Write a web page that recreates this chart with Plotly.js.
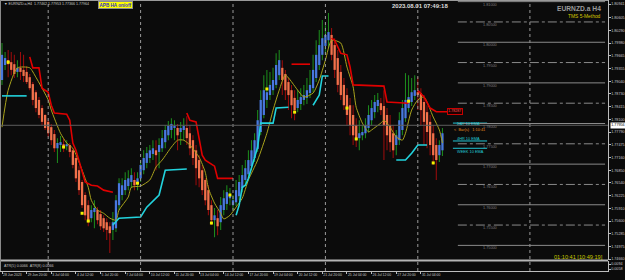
<!DOCTYPE html>
<html><head><meta charset="utf-8">
<script src="https://cdn.plot.ly/plotly-3.0.1.min.js"></script>
<style>html,body{margin:0;padding:0;background:#0b0b0b;}#chart{width:625px;height:280px;}</style>
</head><body><div id="chart"></div>
<script>
// ---- data ----
const openP = [
1.7907,1.7944,1.7956,1.7951,1.7946,1.7927,1.7937,1.7932,1.7927,1.7914,
1.7897,1.7877,1.7858,1.7838,1.7821,1.7804,1.7791,1.7774,1.7739,1.7747,
1.7749,1.7744,1.7747,1.7734,1.7715,1.7685,1.7656,1.7624,1.7599,1.7567,
1.7582,1.7587,1.7577,1.7567,1.7557,1.7547,1.7538,1.7542,1.7599,1.7624,
1.7636,1.7646,1.7656,1.7661,1.7653,1.7665,1.7685,1.7703,1.7715,1.7725,
1.7734,1.7730,1.7739,1.7754,1.7771,1.7784,1.7789,1.7789,1.7779,1.7784,
1.7789,1.7776,1.7759,1.7734,1.7710,1.7685,1.7661,1.7636,1.7599,1.7562,
1.7567,1.7557,1.7587,1.7602,1.7616,1.7599,1.7606,1.7621,1.7641,1.7661,
1.7675,1.7695,1.7715,1.7737,1.7779,1.7821,1.7858,1.7870,1.7882,1.7895,
1.7919,1.7937,1.7922,1.7902,1.7882,1.7863,1.7838,1.7848,1.7858,1.7863,
1.7875,1.7887,1.7912,1.7944,1.7969,1.7991,1.8005,1.8018,1.7993,1.7961,
1.7927,1.7895,1.7870,1.7845,1.7821,1.7796,1.7764,1.7771,1.7776,1.7789,
1.7808,1.7828,1.7843,1.7850,1.7843,1.7821,1.7796,1.7776,1.7747,1.7759,
1.7784,1.7813,1.7838,1.7853,1.7868,1.7877,1.7875,1.7853,1.7828,1.7804,
1.7776,1.7747,1.7722,1.7734];
const highP = [
1.7998,1.7976,1.7981,1.7976,1.7969,1.7956,1.7976,1.7969,1.7941,1.7922,
1.7902,1.7882,1.7865,1.7845,1.7823,1.7808,1.7799,1.7784,1.7764,1.7769,
1.7764,1.7759,1.7752,1.7739,1.7720,1.7695,1.7661,1.7631,1.7611,1.7599,
1.7611,1.7594,1.7587,1.7574,1.7567,1.7557,1.7582,1.7624,1.7665,1.7665,
1.7680,1.7685,1.7690,1.7680,1.7680,1.7710,1.7734,1.7742,1.7747,1.7759,
1.7759,1.7764,1.7784,1.7796,1.7806,1.7813,1.7808,1.7799,1.7804,1.7813,
1.7818,1.7796,1.7771,1.7747,1.7722,1.7698,1.7665,1.7648,1.7611,1.7592,
1.7587,1.7619,1.7636,1.7648,1.7641,1.7624,1.7661,1.7673,1.7698,1.7710,
1.7734,1.7759,1.7776,1.7833,1.7882,1.7919,1.7932,1.7927,1.7937,1.7973,
1.7981,1.7956,1.7932,1.7912,1.7895,1.7882,1.7882,1.7887,1.7895,1.7912,
1.7932,1.7969,1.8005,1.8030,1.8055,1.8042,1.8072,1.8035,1.8010,1.7981,
1.7944,1.7912,1.7887,1.7863,1.7845,1.7813,1.7808,1.7796,1.7813,1.7845,
1.7858,1.7870,1.7875,1.7863,1.7882,1.7838,1.7821,1.7796,1.7784,1.7828,
1.7858,1.7924,1.7919,1.7912,1.7919,1.7914,1.7887,1.7870,1.7845,1.7821,
1.7796,1.7764,1.7759,1.7789];
const lowP = [
1.7895,1.7932,1.7914,1.7919,1.7912,1.7914,1.7907,1.7902,1.7897,1.7882,
1.7845,1.7828,1.7813,1.7796,1.7784,1.7767,1.7747,1.7730,1.7703,1.7730,
1.7730,1.7734,1.7717,1.7690,1.7656,1.7624,1.7592,1.7562,1.7547,1.7557,
1.7542,1.7552,1.7538,1.7533,1.7513,1.7481,1.7513,1.7533,1.7587,1.7611,
1.7624,1.7636,1.7641,1.7636,1.7636,1.7656,1.7675,1.7690,1.7703,1.7710,
1.7685,1.7690,1.7730,1.7739,1.7759,1.7764,1.7759,1.7734,1.7747,1.7759,
1.7747,1.7722,1.7698,1.7648,1.7643,1.7624,1.7599,1.7574,1.7550,1.7520,
1.7525,1.7538,1.7574,1.7587,1.7599,1.7587,1.7597,1.7611,1.7631,1.7648,
1.7665,1.7685,1.7705,1.7730,1.7771,1.7813,1.7838,1.7858,1.7870,1.7887,
1.7907,1.7870,1.7858,1.7833,1.7813,1.7808,1.7828,1.7833,1.7845,1.7848,
1.7863,1.7877,1.7902,1.7932,1.7956,1.7969,1.7986,1.7956,1.7912,1.7877,
1.7858,1.7833,1.7796,1.7771,1.7747,1.7742,1.7734,1.7759,1.7764,1.7779,
1.7796,1.7813,1.7828,1.7821,1.7710,1.7734,1.7730,1.7715,1.7722,1.7747,
1.7771,1.7804,1.7828,1.7843,1.7858,1.7833,1.7796,1.7747,1.7739,1.7722,
1.7698,1.7661,1.7705,1.7720];
const closeP = [
1.7969,1.7961,1.7946,1.7932,1.7922,1.7937,1.7927,1.7917,1.7902,1.7887,
1.7858,1.7838,1.7821,1.7804,1.7789,1.7776,1.7759,1.7739,1.7752,1.7754,
1.7742,1.7749,1.7730,1.7698,1.7665,1.7636,1.7599,1.7574,1.7557,1.7587,
1.7592,1.7562,1.7547,1.7542,1.7538,1.7530,1.7557,1.7611,1.7653,1.7648,
1.7661,1.7665,1.7673,1.7648,1.7665,1.7698,1.7715,1.7727,1.7734,1.7739,
1.7722,1.7747,1.7764,1.7784,1.7794,1.7799,1.7794,1.7771,1.7789,1.7794,
1.7764,1.7739,1.7715,1.7690,1.7665,1.7636,1.7611,1.7587,1.7562,1.7574,
1.7547,1.7599,1.7616,1.7631,1.7624,1.7611,1.7636,1.7656,1.7673,1.7690,
1.7710,1.7734,1.7759,1.7808,1.7858,1.7882,1.7877,1.7895,1.7907,1.7944,
1.7956,1.7907,1.7882,1.7870,1.7845,1.7833,1.7858,1.7865,1.7870,1.7882,
1.7895,1.7932,1.7969,1.7993,1.8010,1.8018,1.8025,1.7969,1.7932,1.7895,
1.7870,1.7845,1.7821,1.7796,1.7771,1.7759,1.7776,1.7779,1.7796,1.7821,
1.7838,1.7853,1.7858,1.7833,1.7796,1.7771,1.7754,1.7734,1.7771,1.7808,
1.7838,1.7858,1.7865,1.7877,1.7882,1.7870,1.7833,1.7804,1.7779,1.7747,
1.7722,1.7710,1.7747,1.7776];

// moving average (yellow)
const maIdx = [0,2,5,9,11,15,16,19,21,23,25,28,29,31,33,35,37,38,41,42,45,48,50,52,55,57,59,61,64,66,67,69,71,72,74,76,78,80,83,86,88,90,92,96,98,101,103,105,107,110,112,114,115,117,119,120,123,124,126,128,130,131,133,135,137,140,142,143];
const maVal = [1.7791,1.7882,1.7937,1.7937,1.7914,1.7858,1.7833,1.7776,1.7752,1.7739,1.7705,1.7643,1.7611,1.7587,1.7579,1.7567,1.7562,1.7587,1.7619,1.7643,1.7646,1.7661,1.7693,1.7710,1.7742,1.7759,1.7759,1.7747,1.7717,1.7680,1.7641,1.7604,1.7579,1.7565,1.7574,1.7594,1.7616,1.7661,1.7710,1.7776,1.7833,1.7882,1.7919,1.7882,1.7865,1.7875,1.7907,1.7956,1.8005,1.7998,1.7939,1.7890,1.7840,1.7801,1.7779,1.7784,1.7801,1.7808,1.7791,1.7767,1.7759,1.7776,1.7833,1.7858,1.7865,1.7816,1.7784,1.7752];

// resistance (red) and support (cyan) step lines, null = gap
const redIdx = [9,10,12,13,15,16,17,21,22,23,24,26,27,29,31,33,36,null,60,61,63,64,65,66,67,69,70,75,null,94,100,null,107,108,110,112,113,114,124,125,132,null,135,137,139,141,146];
const redVal = [1.7964,1.7937,1.7937,1.7887,1.7877,1.7845,1.7826,1.7823,1.7808,1.7752,1.7734,1.7685,1.7656,1.7648,1.7646,1.7636,1.7631,null,1.7826,1.7808,1.7804,1.7759,1.7722,1.7710,1.7705,1.7695,1.7665,1.7665,null,1.7946,1.7946,null,1.8010,1.8005,1.7973,1.7969,1.7939,1.7895,1.7892,1.7853,1.7850,null,1.7882,1.7865,1.7838,1.7829,1.7829];
const cyanIdx = [0,8,null,36,38,45,47,51,52,53,60,null,76,77,78,79,80,81,83,84,88,89,93,null,101,103,104,106,null,128,131,133,135,138];
const cyanVal = [1.7868,1.7868,null,1.7550,1.7567,1.7570,1.7594,1.7624,1.7656,1.7685,1.7688,null,1.7574,1.7599,1.7643,1.7648,1.7665,1.7693,1.7742,1.7801,1.7801,1.7838,1.7840,null,1.7845,1.7870,1.7917,1.7917,null,1.7710,1.7710,1.7727,1.7747,1.7747];

// yellow signal dots
const dotIdx = [2,20,26,28,44,68,74,86,95,112,115,132,140];
const dotVal = [1.7951,1.7742,1.7579,1.7560,1.7653,1.7555,1.7624,1.7885,1.7828,1.7838,1.7762,1.7855,1.7703];

// round-number levels
const levels = [1.81,1.805,1.80,1.795,1.79,1.785,1.78,1.775,1.77,1.765,1.76,1.755,1.75];
const levelText = ['1.81000','1.80500','1.80000','1.79500','1.79000','1.78500','1.78000','1.77500','1.77000','1.76500','1.76000','1.75500','1.75000'];

// EMA markers
const emaNames = ['DAY 10 EMA','4HR 10 EMA','WEEK 10 EMA'];
const emaVals = [1.7801,1.7757,1.7739];
const emaTextVals = [1.7800,1.7763,1.7731];

// period separators (bar index)
const sepIdx = [15,45,75,105,135,171.4];

// axis ticks
const tickIdx = [0,8,16,24,32,40,48,56,64,72,80,88,96,104,112,120,128,136];
const tickLabels = ['28 Jun 2023','29 Jun 20:00','3 Jul 04:00','4 Jul 12:00','5 Jul 20:00','7 Jul 04:00','10 Jul 12:00','11 Jul 20:00','13 Jul 04:00','14 Jul 12:00','17 Jul 20:00','19 Jul 04:00','20 Jul 12:00','21 Jul 20:00','25 Jul 04:00','26 Jul 12:00','27 Jul 20:00','31 Jul 04:00'];
const priceTicks = [1.80941,1.80605,1.80290,1.79980,1.79665,1.79355,1.79040,1.78730,1.78415,1.78100,1.77790,1.77475,1.77160,1.76850,1.76540,1.76225,1.75910,1.75600,1.75285,1.74975,1.74660];
const priceTickText = priceTicks.map(v => v.toFixed(5));
const bidPrice = 1.77956;
const atrTicks = [0.0058,0.0094];

// ---- build ----
const idx = openP.map((_, i) => i);
const up = openP.map((o, i) => closeP[i] >= o);
const bodyBase = openP.map((o, i) => Math.min(o, closeP[i]));
const bodyLen = openP.map((o, i) => Math.max(Math.abs(closeP[i] - o), 0.00012));
const wickLen = highP.map((h, i) => h - lowP[i]);

const traces = [
  {type:'bar', x:idx, y:wickLen, base:lowP, width:0.34, yaxis:'y',
   marker:{color:up.map(u => u ? '#1c8a1c' : '#9a0c0c'), line:{width:0}}},
  {type:'bar', x:idx, y:bodyLen, base:bodyBase, width:0.74, yaxis:'y',
   marker:{color:up.map(u => u ? '#4878df' : '#f2714b'), line:{width:0}}},
  {type:'scatter', mode:'lines', x:maIdx, y:maVal, line:{color:'#a9a31c', width:1, shape:'spline', smoothing:0.6}},
  {type:'scatter', mode:'lines', x:redIdx, y:redVal, connectgaps:false, line:{color:'#e00000', width:1.6}},
  {type:'scatter', mode:'lines', x:cyanIdx, y:cyanVal, connectgaps:false, line:{color:'#22d3dd', width:1.6}},
  {type:'scatter', mode:'markers', x:dotIdx, y:dotVal, marker:{symbol:'square', size:3, color:'#f2f200'}},
  {type:'scatter', mode:'lines', x:[null], y:[null], yaxis:'y2'}
];
emaVals.forEach(v => traces.push({type:'scatter', mode:'lines', x:[146.4,157.5], y:[v,v], line:{color:'#22c8d6', width:1}}));

const shapes = [];
sepIdx.forEach(s => shapes.push({type:'line', xref:'x', yref:'paper', x0:s, x1:s, y0:0, y1:1, line:{color:'#9a9a9a', width:1, dash:'dot'}}));
levels.forEach((lv, k) => shapes.push({type:'line', xref:'x', yref:'y', x0:148, x1:195.8, y0:lv, y1:lv,
  line:{color:'#8a8a8a', width:1, dash: k % 2 === 0 ? 'solid' : 'dashdot'}}));
shapes.push({type:'line', xref:'paper', yref:'y', x0:0, x1:1, y0:bidPrice, y1:bidPrice, line:{color:'#5e5e5e', width:1}});
shapes.push({type:'line', xref:'paper', yref:'paper', x0:0, x1:1, y0:10.5/271, y1:10.5/271, line:{color:'#b4b4b4', width:2}});
shapes.push({type:'line', xref:'paper', yref:'paper', x0:0, x1:1, y0:1, y1:1, line:{color:'#9a9a9a', width:2}});
shapes.push({type:'line', xref:'paper', yref:'paper', x0:0, x1:0, y0:0, y1:1, line:{color:'#8a8a8a', width:2}});

const PX = x => x / 608, PY = y => (271 - y) / 271;
const F = 'Liberation Sans, Arial, sans-serif';
const annotations = [
  {xref:'paper', yref:'paper', x:PX(2), y:PY(4.5), xanchor:'left', yanchor:'middle', showarrow:false,
   text:'▼ EURNZD.a,H4  1.77462 1.77953 1.77366 1.77964', font:{family:F, size:3.6, color:'#c8c8c8'}},
  {xref:'paper', yref:'paper', x:PX(115), y:PY(5.5), xanchor:'center', yanchor:'middle', showarrow:false,
   text:'<b>APB HA on/off</b>', bgcolor:'#ffff00', bordercolor:'#8c8c8c', borderwidth:1, borderpad:0.5,
   font:{family:F, size:4.6, color:'#2e2ec8'}},
  {xref:'paper', yref:'paper', x:PX(420), y:PY(6), xanchor:'center', yanchor:'middle', showarrow:false,
   text:'<b>2023.08.01 07:49:18</b>', font:{family:F, size:6, color:'#dcdcdc'}},
  {xref:'paper', yref:'paper', x:PX(603), y:PY(9), xanchor:'right', yanchor:'middle', showarrow:false,
   text:'<b>EURNZD.a H4</b>', font:{family:F, size:6.7, color:'#9a9a9a'}},
  {xref:'paper', yref:'paper', x:PX(603), y:PY(16.5), xanchor:'right', yanchor:'middle', showarrow:false,
   text:'TMS 5-Method', font:{family:F, size:4.9, color:'#d8c800'}},
  {xref:'paper', yref:'paper', x:PX(605), y:PY(257), xanchor:'right', yanchor:'middle', showarrow:false,
   text:'01:10:41 [10:49:19]', font:{family:F, size:5.6, color:'#c8c800'}},
  {xref:'paper', yref:'paper', x:PX(2), y:PY(265.5), xanchor:'left', yanchor:'middle', showarrow:false,
   text:'ATR(5) 0.0066  ATR(8) 0.0066', font:{family:F, size:3.7, color:'#c0c0c0'}},
  {xref:'paper', yref:'y', x:1.003, y:bidPrice, xanchor:'left', yanchor:'middle', showarrow:false,
   text:'1.77956', bgcolor:'#ffffff', borderpad:0.3, font:{family:F, size:3.7, color:'#000000'}},
  {xref:'x', yref:'y', x:147.1, y:redVal[redVal.length-1], xanchor:'center', yanchor:'middle', showarrow:false,
   text:'1.78287', bgcolor:'#1e0000', bordercolor:'#c80000', borderwidth:1, borderpad:0.3, font:{family:F, size:3.6, color:'#ff5a5a'}},
  {xref:'x', yref:'y', x:146.1, y:1.7785, xanchor:'left', yanchor:'middle', showarrow:false,
   text:'<  Bar(s)   1:10:41', font:{family:F, size:3.9, color:'#e68a1e'}}
];
emaNames.forEach((t, k) => annotations.push({xref:'x', yref:'y', x:147, y:emaTextVals[k], xanchor:'left', yanchor:'middle',
  showarrow:false, text:t, font:{family:F, size:3.9, color:'#22c8d6'}}));
levels.forEach((lv, k) => annotations.push({xref:'x', yref:'y', x:158.4, y:lv, yshift:-3, xanchor:'center', yanchor:'middle',
  showarrow:false, text:levelText[k], font:{family:F, size:3.8, color:'#7c7c7c'}}));

const axisFont = {family:F, size:3.7, color:'#c8c8c8'};
const layout = {
  width:625, height:280, margin:{l:0, r:17, t:0, b:9, pad:0},
  paper_bgcolor:'#0b0b0b', plot_bgcolor:'#0b0b0b', showlegend:false, barmode:'overlay', hovermode:false,
  font:{family:F, size:5, color:'#c8c8c8'},
  xaxis:{range:[-0.65,196.75], anchor:'y2', showgrid:false, zeroline:false, tickmode:'array', tickvals:tickIdx, ticktext:tickLabels,
    tickangle:0, ticklabelposition:'outside right', ticks:'outside', ticklen:2, tickcolor:'#bdbdbd',
    tickfont:{family:F, size:3.4, color:'#c8c8c8'},
    showline:true, linecolor:'#bdbdbd', linewidth:1, automargin:false},
  yaxis:{domain:[11/271,1], range:[1.7464,1.8104], side:'right', anchor:'x', showgrid:false, zeroline:false,
    tickmode:'array', tickvals:priceTicks, ticktext:priceTickText, ticks:'outside', ticklen:1.5, tickcolor:'#bdbdbd',
    tickfont:axisFont, showline:true, linecolor:'#bdbdbd', linewidth:1, automargin:false},
  yaxis2:{domain:[0,10/271], range:[0.00436,0.01156], side:'right', anchor:'x', showgrid:false, zeroline:false,
    tickmode:'array', tickvals:atrTicks, ticktext:atrTicks.map(v => v.toFixed(4)), ticks:'outside', ticklen:1.5, tickcolor:'#bdbdbd',
    tickfont:axisFont, showline:true, linecolor:'#bdbdbd', linewidth:1, automargin:false},
  shapes:shapes, annotations:annotations
};
Plotly.newPlot('chart', traces, layout, {staticPlot:true, displayModeBar:false});
</script></body></html>
